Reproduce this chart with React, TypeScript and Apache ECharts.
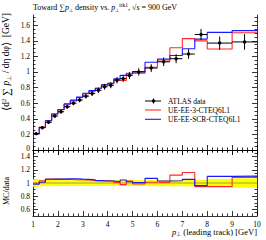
import React, { useEffect, useRef } from "react";
import * as echarts from "echarts";

const binEdges = [1, 1.25, 1.5, 1.75, 2, 2.25, 2.5, 2.75, 3, 3.25, 3.5, 3.75, 4, 4.25, 4.5, 4.75, 5, 5.5, 6, 6.5, 7, 7.5, 8, 9, 10];
const dataValues = [0.21, 0.285, 0.355, 0.435, 0.49, 0.555, 0.6, 0.64, 0.69, 0.725, 0.765, 0.81, 0.83, 0.895, 0.915, 0.955, 1.0, 1.05, 1.13, 1.17, 1.23, 1.48, 1.37, 1.385];
const dataErrors = [0.012, 0.014, 0.017, 0.02, 0.022, 0.025, 0.027, 0.029, 0.031, 0.033, 0.035, 0.037, 0.038, 0.041, 0.042, 0.044, 0.047, 0.05, 0.055, 0.058, 0.062, 0.07, 0.085, 0.1];
const mcEE3 = [0.209, 0.294, 0.376, 0.461, 0.517, 0.586, 0.63, 0.672, 0.721, 0.754, 0.792, 0.838, 0.855, 0.904, 0.892, 0.984, 0.985, 1.061, 1.141, 1.31, 1.427, 1.399, 1.295, 1.503];
const mcSCR = [0.206, 0.288, 0.375, 0.461, 0.519, 0.591, 0.639, 0.678, 0.728, 0.761, 0.792, 0.834, 0.855, 0.913, 0.956, 0.974, 1.005, 1.124, 1.164, 1.211, 1.298, 1.421, 1.507, 1.53];

const mainYMajor = [0, 0.2, 0.4, 0.6, 0.8, 1, 1.2, 1.4, 1.6];
const mainYMinor = [0.05, 0.1, 0.15, 0.25, 0.3, 0.35, 0.45, 0.5, 0.55, 0.65, 0.7, 0.75, 0.85, 0.9, 0.95, 1.05, 1.1, 1.15, 1.25, 1.3, 1.35, 1.45, 1.5, 1.55, 1.65, 1.7];
const ratioYMajor = [0.6, 0.8, 1, 1.2, 1.4];
const ratioYMinor = [0.55, 0.65, 0.7, 0.75, 0.85, 0.9, 0.95, 1.05, 1.1, 1.15, 1.25, 1.3, 1.35, 1.45];

const SERIF = "Liberation Serif";
const RED = "#ff2a2a";
const BLUE = "#1a1aff";

function stepPoints(vals: number[]) {
  const pts: number[][] = [];
  vals.forEach((v, i) => {
    pts.push([binEdges[i], v]);
    pts.push([binEdges[i + 1], v]);
  });
  return pts;
}

const mkRich = (fs: number) => ({
  n: { fontFamily: SERIF, fontSize: fs, color: "#000", lineHeight: fs + 2 },
  i: { fontFamily: SERIF, fontSize: fs, fontStyle: "italic", color: "#000", lineHeight: fs + 2 },
  big: { fontFamily: SERIF, fontSize: fs + 1.5, color: "#000", lineHeight: fs + 2 },
  sub: { fontFamily: SERIF, fontSize: fs * 0.68, color: "#000", verticalAlign: "bottom", lineHeight: fs + 2 },
  sup: { fontFamily: SERIF, fontSize: fs * 0.68, color: "#000", verticalAlign: "top", lineHeight: fs + 2 },
});

export default function App() {
  const ref = useRef<HTMLDivElement>(null);
  useEffect(() => {
    if (!ref.current) return;
    const chart = echarts.init(ref.current, undefined, { renderer: "svg" });
    const L = 33, R = 9, MT = 15, MH = 135, RT = 150, RH = 66;
    const axLine = { show: true, lineStyle: { color: "#000", width: 0.8 } };
    const tickStyle = { color: "#000", width: 0.8 };
    const xBase = (grid: number, pos: string, labels: boolean) => ({
      type: "value", gridIndex: grid, position: pos, min: 1, max: 10, interval: 1,
      axisLine: axLine,
      axisTick: { show: true, inside: true, length: 5, lineStyle: tickStyle },
      minorTick: { show: true, splitNumber: 5, length: 2.5, lineStyle: tickStyle },
      axisLabel: { show: labels, fontFamily: SERIF, fontSize: 7.5, color: "#000", margin: 4 },
      splitLine: { show: false },
    });
    const yBase = (grid: number, pos: string, min: number, max: number, vals: number[], len: number, labels: boolean, line: boolean) => ({
      type: "value", gridIndex: grid, position: pos, min, max,
      axisLine: line ? axLine : { show: false },
      axisTick: { show: true, inside: true, length: len, customValues: vals, lineStyle: tickStyle },
      axisLabel: labels
        ? {
            show: true, customValues: vals, fontFamily: SERIF, fontSize: 7.5, color: "#000", margin: 3,
            formatter: (v: number) => (grid === 0 && v === 0 ? "{z|0}" : String(Math.round(v * 10) / 10)),
            rich: { z: { fontFamily: SERIF, fontSize: 7.5, color: "#000", padding: [0, 0, 3, 0] } },
          }
        : { show: false },
      splitLine: { show: false },
    });
    const dataRows = dataValues.map((v, i) => [binEdges[i], binEdges[i + 1], v, dataErrors[i]]);
    const bandRows = dataValues.map((v, i) => [binEdges[i], binEdges[i + 1], dataErrors[i] / v]);
    const ratioEE3 = mcEE3.map((m, i) => m / dataValues[i]);
    const ratioSCR = mcSCR.map((m, i) => m / dataValues[i]);

    const option: any = {
      animation: false,
      backgroundColor: "#fff",
      grid: [
        { left: L, right: R, top: MT, height: MH, outerBoundsMode: "none" },
        { left: L, right: R, top: RT, height: RH, outerBoundsMode: "none" },
      ],
      xAxis: [xBase(0, "bottom", false), xBase(0, "top", false), xBase(1, "bottom", true), xBase(1, "top", false)],
      yAxis: [
        yBase(0, "left", 0, 1.73, mainYMajor, 5, true, true),
        yBase(0, "left", 0, 1.73, mainYMinor, 2.5, false, false),
        yBase(0, "right", 0, 1.73, mainYMajor, 5, false, true),
        yBase(0, "right", 0, 1.73, mainYMinor, 2.5, false, false),
        yBase(1, "left", 0.5, 1.5, ratioYMajor, 5, true, true),
        yBase(1, "left", 0.5, 1.5, ratioYMinor, 2.5, false, false),
        yBase(1, "right", 0.5, 1.5, ratioYMajor, 5, false, true),
        yBase(1, "right", 0.5, 1.5, ratioYMinor, 2.5, false, false),
      ],
      series: [
        {
          type: "line", name: "UE-EE-3-CTEQ6L1", xAxisIndex: 0, yAxisIndex: 0, data: stepPoints(mcEE3),
          symbol: "none", lineStyle: { color: RED, width: 1.1 }, z: 3,
        },
        {
          type: "line", name: "UE-EE-SCR-CTEQ6L1", xAxisIndex: 0, yAxisIndex: 0, data: stepPoints(mcSCR),
          symbol: "none", lineStyle: { color: BLUE, width: 1.1 }, z: 4,
        },
        {
          type: "custom", name: "ATLAS data", xAxisIndex: 0, yAxisIndex: 0, data: dataRows, z: 5,
          encode: { x: [0, 1], y: [2] },
          renderItem: (params: any, api: any) => {
            const lo = api.value(0), hi = api.value(1), v = api.value(2), e = api.value(3);
            const xc = (lo + hi) / 2;
            const pL = api.coord([lo, v]), pR = api.coord([hi, v]);
            const pT = api.coord([xc, v + e]), pB = api.coord([xc, v - e]);
            const c = api.coord([xc, v]);
            return {
              type: "group",
              children: [
                { type: "line", shape: { x1: pL[0], y1: pL[1], x2: pR[0], y2: pR[1] }, style: { stroke: "#000", lineWidth: 1 } },
                { type: "line", shape: { x1: pT[0], y1: pT[1], x2: pB[0], y2: pB[1] }, style: { stroke: "#000", lineWidth: 1 } },
                { type: "circle", shape: { cx: c[0], cy: c[1], r: 1.7 }, style: { fill: "#000" } },
              ],
            };
          },
        },
        {
          type: "custom", name: "band", xAxisIndex: 2, yAxisIndex: 4, data: bandRows, z: 2,
          encode: { x: [0, 1], y: [2] },
          renderItem: (params: any, api: any) => {
            const lo = api.value(0), hi = api.value(1), e = api.value(2);
            const p1 = api.coord([lo, 1 + e]), p2 = api.coord([hi, 1 - e]);
            return { type: "rect", shape: { x: p1[0], y: p1[1], width: p2[0] - p1[0], height: p2[1] - p1[1] }, style: { fill: "#ffff00" } };
          },
        },
        {
          type: "line", name: "unity", xAxisIndex: 2, yAxisIndex: 4, data: [[1, 1], [10, 1]],
          symbol: "none", lineStyle: { color: "#777", width: 0.7 }, z: 3,
        },
        {
          type: "line", name: "ratio EE3", xAxisIndex: 2, yAxisIndex: 4, data: stepPoints(ratioEE3),
          symbol: "none", lineStyle: { color: RED, width: 1.1 }, z: 4,
        },
        {
          type: "line", name: "ratio SCR", xAxisIndex: 2, yAxisIndex: 4, data: stepPoints(ratioSCR),
          symbol: "none", lineStyle: { color: BLUE, width: 1.1 }, z: 5,
        },
      ],
      graphic: [
        {
          type: "text", x: 33, y: 7,
          style: {
            text: "{n|Toward ∑}{i|p}{sub|⊥}{n| density vs. }{i|p}{sub|⊥}{sup|trk1}{n|, √}{i|s}{n| = 900 GeV}",
            rich: mkRich(8), verticalAlign: "middle", align: "left",
          },
        },
        {
          type: "text", x: 6, y: 13, rotation: Math.PI / 2,
          style: {
            text: "{big|⟨}{n|d}{sup|2}{big| ∑ }{i|p}{sub|⊥}{n| / dη dφ}{big|⟩}{n|  [GeV]}",
            rich: mkRich(9.5), verticalAlign: "middle", align: "right",
          },
        },
        {
          type: "text", x: 6, y: 191, rotation: Math.PI / 2,
          style: { text: "MC/data", font: `8px "${SERIF}"`, fill: "#000", verticalAlign: "middle", align: "center" },
        },
        {
          type: "text", x: 257, y: 232,
          style: {
            text: "{i|p}{sub|⊥}{n| (leading track) [GeV]}",
            rich: mkRich(8.5), verticalAlign: "middle", align: "right",
          },
        },
        // legend
        { type: "line", shape: { x1: 145, y1: 101, x2: 161, y2: 101 }, style: { stroke: "#000", lineWidth: 1 } },
        { type: "line", shape: { x1: 153.5, y1: 98.5, x2: 153.5, y2: 103.5 }, style: { stroke: "#000", lineWidth: 1 } },
        { type: "circle", shape: { cx: 153.5, cy: 101, r: 1.7 }, style: { fill: "#000" } },
        { type: "text", x: 168, y: 101, style: { text: "ATLAS data", font: `7.5px "${SERIF}"`, fill: "#000", verticalAlign: "middle" } },
        { type: "line", shape: { x1: 145, y1: 110, x2: 161, y2: 110 }, style: { stroke: RED, lineWidth: 1.1 } },
        { type: "text", x: 168, y: 110, style: { text: "UE-EE-3-CTEQ6L1", font: `7.5px "${SERIF}"`, fill: "#000", verticalAlign: "middle" } },
        { type: "line", shape: { x1: 145, y1: 119.3, x2: 161, y2: 119.3 }, style: { stroke: BLUE, lineWidth: 1.1 } },
        { type: "text", x: 168, y: 119.3, style: { text: "UE-EE-SCR-CTEQ6L1", font: `7.5px "${SERIF}"`, fill: "#000", verticalAlign: "middle" } },
      ],
    };
    chart.setOption(option);
    return () => chart.dispose();
  }, []);
  return <div ref={ref} style={{ position: "fixed", left: 0, top: 0, width: 266, height: 240, background: "#fff" }} />;
}
